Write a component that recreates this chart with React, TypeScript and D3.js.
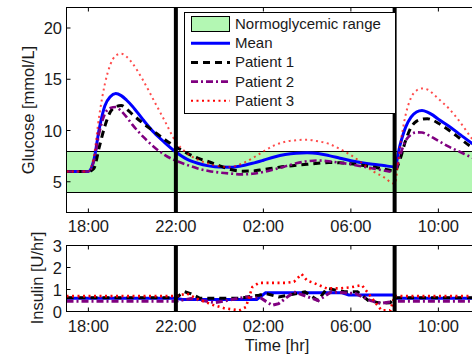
import React from "react";
import * as d3 from "d3";

const W = 472;
const H = 354;

const hourTicks = [18, 22, 26, 30, 34];
const hourLabels = ["18:00", "22:00", "02:00", "06:00", "10:00"];
const glucoseTicks = [5, 10, 15, 20];
const insulinTicks = [0, 1, 2, 3];
const mealLines = [22, 32];
const normoRange = [4, 8];

// Glucose (time in hours since midnight of day 1; 24+ = next day)
const gT = [17, 18, 18.25, 18.5, 18.75, 19, 19.25, 19.5, 19.75, 20, 20.5, 21, 21.5, 22,
  22.5, 23, 23.5, 24, 24.5, 25, 25.5, 26, 26.5, 27, 27.5, 28, 28.5, 29, 29.5, 30, 30.5, 31, 31.5, 32,
  32.25, 32.5, 32.75, 33, 33.25, 33.5, 33.75, 34, 34.5, 35, 35.5, 36];
const gMean = [6.0, 6.0, 7.1, 10.2, 12.4, 13.3, 13.6, 13.4, 12.95, 12.4, 11.05, 9.8, 8.8, 7.9,
  7.2, 6.8, 6.55, 6.43, 6.42, 6.55, 6.8, 7.1, 7.42, 7.65, 7.78, 7.82, 7.75, 7.55, 7.3, 7.05, 6.85, 6.7, 6.58, 6.45,
  8.6, 10.3, 11.3, 11.8, 11.95, 11.8, 11.5, 11.1, 10.4, 9.6, 8.8, 8.1];
const gP1 = [6.0, 6.0, 6.3, 8.4, 10.4, 11.8, 12.3, 12.45, 12.1, 11.6, 10.7, 9.9, 9.1, 8.4,
  7.8, 7.3, 6.95, 6.55, 6.2, 6.03, 6.05, 6.2, 6.35, 6.5, 6.6, 6.7, 6.8, 6.88, 6.85, 6.75, 6.6, 6.45, 6.25, 6.05,
  7.2, 9.0, 10.3, 10.9, 11.1, 11.15, 11.0, 10.7, 10.0, 9.2, 8.4, 7.7];
const gP2 = [6.0, 6.0, 7.0, 9.8, 11.6, 12.2, 12.3, 11.9, 11.3, 10.6, 9.4, 8.4, 7.6, 7.05,
  6.65, 6.3, 6.05, 5.9, 5.8, 5.72, 5.78, 5.95, 6.2, 6.5, 6.8, 7.0, 7.07, 7.0, 6.85, 6.7, 6.5, 6.3, 6.1, 5.95,
  7.6, 9.0, 9.6, 9.82, 9.8, 9.6, 9.3, 9.0, 8.4, 7.9, 7.4, 7.0];
const gP3 = [6.0, 6.0, 7.5, 11.5, 14.5, 16.4, 17.3, 17.5, 17.2, 16.6, 14.9, 12.9, 10.9, 8.9,
  7.8, 7.15, 6.75, 6.5, 6.45, 6.75, 7.3, 7.95, 8.55, 8.9, 9.05, 9.1, 8.95, 8.7, 8.2, 7.6, 6.85, 6.05, 5.45, 4.8,
  8.5, 11.5, 13.2, 13.9, 14.1, 14.0, 13.6, 13.1, 12.1, 10.8, 9.3, 8.0];

// Insulin
const iMeanT = [17, 22, 22.3, 25.7, 26.1, 29.6, 29.9, 32, 32.05, 36];
const iMean = [0.6, 0.6, 0.55, 0.55, 0.85, 0.85, 0.75, 0.75, 0.6, 0.6];
const iP1T = [17, 22, 22.4, 22.7, 23.1, 24, 24.9, 25.8, 26.1, 26.7, 27.9, 28.5, 28.9, 29.7, 30.3, 30.8, 31.4, 31.8, 32, 36];
const iP1 = [0.63, 0.63, 0.9, 0.8, 0.6, 0.6, 0.6, 0.74, 0.82, 0.66, 0.89, 0.5, 1.05, 0.9, 0.9, 0.5, 0.37, 0.4, 0.63, 0.63];
const iP2T = [17, 22, 22.7, 23.8, 25.2, 25.9, 26.4, 26.7, 27.4, 28.5, 29.1, 30.2, 30.9, 31.4, 32, 36];
const iP2 = [0.47, 0.47, 0.59, 0.4, 0.66, 0.6, 0.28, 0.36, 0.89, 0.5, 0.89, 0.82, 0.5, 0.37, 0.47, 0.47];
const iP3T = [17, 22, 22.5, 22.95, 23.3, 23.7, 24.2, 24.9, 25.2, 25.5, 25.8, 26.5, 27, 27.4, 27.75, 28, 28.3, 28.9, 29.5, 30, 30.5, 30.8, 31.1, 31.4, 31.8, 32, 36];
const iP3 = [0.7, 0.7, 0.82, 0.59, 0.45, 0.3, 0.15, 0.05, 0.2, 1.12, 1.3, 1.3, 1.3, 1.35, 1.7, 1.4, 1.3, 1.05, 1.05, 1.1, 1.2, 0.82, 0.43, 0.05, 0.05, 0.7, 0.7];

const seriesNames = ["Mean", "Patient 1", "Patient 2", "Patient 3"];
const legendBandLabel = "Normoglycemic range";

const styles = [
  { color: "#0000ff", width: 3, dash: "none" },
  { color: "#000000", width: 3, dash: "7,5" },
  { color: "#800080", width: 2.6, dash: "7,3,2,3" },
  { color: "#ff0000", width: 2, dash: "2,3.5" },
];

const FONT = "'Liberation Sans', Arial, Helvetica, sans-serif";

export default function App() {
  const X0 = 66.5;
  const X1 = 66.5 + 19 * 21.875;
  const GT = 7.5, GB = 212.5;
  const IT = 245.5, IB = 311.5;
  const x = d3.scaleLinear().domain([17, 36]).range([X0, X1]);
  const yG = d3.scaleLinear().domain([2, 22]).range([GB, GT]);
  const yI = d3.scaleLinear().domain([0, 3]).range([IB, IT]);

  const gSeries = [gMean, gP1, gP2, gP3];
  const iSeries: [number[], number[]][] = [[iMeanT, iMean], [iP1T, iP1], [iP2T, iP2], [iP3T, iP3]];

  const gLine = d3.line<[number, number]>().x(d => x(d[0])).y(d => yG(d[1])).curve(d3.curveMonotoneX);
  const iLine = d3.line<[number, number]>().x(d => x(d[0])).y(d => yI(d[1]));

  const textCol = "#1a1a1a";
  const tickFs = 16.5;

  const legX = 184.5, legY = 12.5, legW = 211, legH = 101;
  const rowY = (i: number) => 24 + i * 19.2;

  const bandTop = Math.round(yG(normoRange[1])) + 0.5;
  const bandBot = Math.round(yG(normoRange[0])) + 0.5;

  return (
    <svg width={W} height={H} style={{ position: "absolute", left: 0, top: 0, background: "#fff" }}
      fontFamily={FONT}>
      <defs>
        <clipPath id="cg"><rect x={X0} y={GT} width={X1 - X0} height={GB - GT} /></clipPath>
        <clipPath id="ci"><rect x={X0} y={IT} width={X1 - X0} height={IB - IT} /></clipPath>
      </defs>
      <rect x={0} y={0} width={W} height={H} fill="#fff" />

      {/* ===== Glucose panel ===== */}
      <g clipPath="url(#cg)">
        <rect x={X0} y={bandTop} width={X1 - X0} height={bandBot - bandTop}
          fill="#b3f7b3" stroke="#000" strokeWidth={1} />
        {gSeries.map((vals, k) => (
          <path key={k} d={gLine(gT.map((t, i) => [t, vals[i]] as [number, number])) || ""}
            fill="none" stroke={styles[k].color} strokeWidth={styles[k].width}
            strokeDasharray={styles[k].dash} strokeOpacity={k === 3 ? 0.7 : 1} />
        ))}
        {mealLines.map((h, i) => (
          <line key={i} x1={x(h)} x2={x(h)} y1={GT} y2={GB} stroke="#000" strokeWidth={4} />
        ))}
      </g>
      <rect x={X0} y={GT} width={X1 - X0} height={GB - GT} fill="none" stroke="#000" strokeWidth={1} />
      {hourTicks.map((h, i) => (
        <g key={i}>
          <line x1={x(h)} x2={x(h)} y1={GB} y2={GB - 4} stroke="#000" />
          <line x1={x(h)} x2={x(h)} y1={GT} y2={GT + 4} stroke="#000" />
          <text x={x(h)} y={232} textAnchor="middle" fontSize={tickFs} fill={textCol}>{hourLabels[i]}</text>
        </g>
      ))}
      {glucoseTicks.map((v, i) => (
        <g key={i}>
          <line x1={X0} x2={X0 + 4} y1={yG(v)} y2={yG(v)} stroke="#000" />
          <text x={62} y={yG(v) + 6} textAnchor="end" fontSize={tickFs} fill={textCol}>{v}</text>
        </g>
      ))}
      <text transform={`translate(34,${110}) rotate(-90)`} textAnchor="middle" fontSize={16.5} fill={textCol}>
        Glucose [mmol/L]
      </text>

      {/* Legend */}
      <rect x={legX} y={legY} width={legW} height={legH} fill="#fff" stroke="#000" strokeWidth={1} />
      <rect x={191.5} y={rowY(0) - 7.5} width={38} height={15} fill="#b3f7b3" stroke="#000" strokeWidth={1} />
      <text x={235} y={rowY(0) + 5} fontSize={15} fill={textCol}>{legendBandLabel}</text>
      {seriesNames.map((n, k) => (
        <g key={k}>
          <line x1={191} x2={230} y1={rowY(k + 1)} y2={rowY(k + 1)} stroke={styles[k].color}
            strokeWidth={styles[k].width} strokeDasharray={styles[k].dash} />
          <text x={235} y={rowY(k + 1) + 5} fontSize={15} fill={textCol}>{n}</text>
        </g>
      ))}

      {/* ===== Insulin panel ===== */}
      <g clipPath="url(#ci)">
        {iSeries.map(([ts, vs], k) => (
          <path key={k} d={iLine(ts.map((t, i) => [t, vs[i]] as [number, number])) || ""}
            fill="none" stroke={styles[k].color} strokeWidth={k === 3 ? 2.6 : 3}
            strokeDasharray={styles[k].dash} />
        ))}
        {mealLines.map((h, i) => (
          <line key={i} x1={x(h)} x2={x(h)} y1={IT} y2={IB} stroke="#000" strokeWidth={4} />
        ))}
      </g>
      <rect x={X0} y={IT} width={X1 - X0} height={IB - IT} fill="none" stroke="#000" strokeWidth={1} />
      {hourTicks.map((h, i) => (
        <g key={i}>
          <line x1={x(h)} x2={x(h)} y1={IB} y2={IB - 4} stroke="#000" />
          <line x1={x(h)} x2={x(h)} y1={IT} y2={IT + 4} stroke="#000" />
          <text x={x(h)} y={332} textAnchor="middle" fontSize={tickFs} fill={textCol}>{hourLabels[i]}</text>
        </g>
      ))}
      {insulinTicks.map((v, i) => (
        <g key={i}>
          <line x1={X0} x2={X0 + 4} y1={yI(v)} y2={yI(v)} stroke="#000" />
          <text x={62} y={yI(v) + 6} textAnchor="end" fontSize={tickFs} fill={textCol}>{v}</text>
        </g>
      ))}
      <text transform={`translate(43,${278}) rotate(-90)`} textAnchor="middle" fontSize={16.5} fill={textCol}>
        Insulin [U/hr]
      </text>
      <text x={277} y={351} textAnchor="middle" fontSize={16.5} fill={textCol}>Time [hr]</text>
    </svg>
  );
}
